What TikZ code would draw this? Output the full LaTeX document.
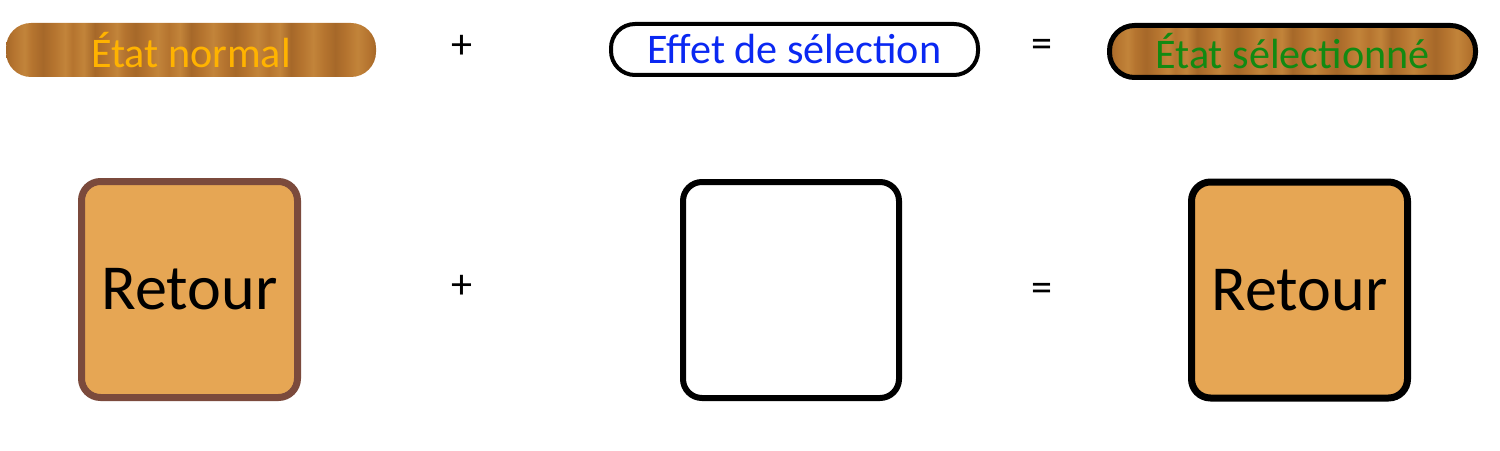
\documentclass[tikz,border=0pt]{standalone}
\usepackage{fontspec}
\setmainfont{Carlito}
\usetikzlibrary{positioning}
\usepackage{xcolor}
\definecolor{woodbase}{HTML}{B5742F}
\definecolor{woodlight}{HTML}{C2843A}
\definecolor{wooddark}{HTML}{A66829}
\definecolor{btnfill}{HTML}{E6A654}
\definecolor{btnedge}{HTML}{7B4A3C}
\definecolor{normtxt}{HTML}{FFB300}
\definecolor{fxtxt}{HTML}{0A28F2}
\definecolor{seltxt}{HTML}{128A12}
% only 25bp--75bp of a shading shows
\pgfdeclarehorizontalshading{woodgrain}{100bp}{color(0bp)=(wooddark); color(25bp)=(wooddark);
  color(26bp)=(woodbase); color(27.5bp)=(woodlight); color(28.5bp)=(woodbase); color(30bp)=(wooddark);
  color(31.5bp)=(woodbase); color(33bp)=(woodlight); color(34bp)=(woodbase); color(35.5bp)=(woodlight);
  color(37bp)=(wooddark); color(38.5bp)=(woodbase); color(40bp)=(woodlight); color(41bp)=(woodbase);
  color(42.5bp)=(wooddark); color(44bp)=(woodbase); color(45.5bp)=(woodlight); color(47bp)=(woodbase);
  color(48.5bp)=(woodlight); color(50bp)=(wooddark); color(51.5bp)=(woodbase); color(53bp)=(woodlight);
  color(54.5bp)=(woodbase); color(56bp)=(wooddark); color(57.5bp)=(woodbase); color(59bp)=(woodlight);
  color(60.5bp)=(woodbase); color(62bp)=(woodlight); color(63.5bp)=(wooddark); color(65bp)=(woodbase);
  color(66.5bp)=(woodlight); color(68bp)=(woodbase); color(69.5bp)=(wooddark); color(71bp)=(woodbase);
  color(72.5bp)=(woodlight); color(74bp)=(woodbase); color(75bp)=(wooddark); color(100bp)=(wooddark)}

\begin{document}
\begin{tikzpicture}[
      every node/.style={font=\fontsize{24}{29}\selectfont},
      woodpill/.style={rounded corners=0.5cm, shading=woodgrain, minimum width=7.4cm, minimum height=1.08cm},
      fxpill/.style={draw, line width=0.08cm, rounded corners=0.48cm, fill=white, minimum width=7.34cm, minimum height=1.02cm},
      btn/.style={rounded corners=0.38cm, line width=0.14cm, minimum width=4.32cm, minimum height=4.32cm, font=\fontsize{36.5}{42}\selectfont},
      op/.style={inner sep=0pt},
    ]
    \useasboundingbox (0,0) rectangle (30,9);

    % Top row: labels
    \node[woodpill, text=normtxt] (normal) at (3.82, 8.0) {État normal};
    \node[op] (plus1) at (9.24, 8.06) {+};
    \node[fxpill, text=fxtxt] (effet) at (15.89, 8.01) {Effet de sélection};
    \node[op] (eq1) at (20.84, 8.04) {=};
    \node[woodpill, draw, line width=0.1cm, minimum width=7.32cm, minimum height=1.04cm, text=seltxt] (selected) at (25.85, 7.97) {État sélectionné};

    % Bottom row: buttons
    \node[btn, draw=btnedge, fill=btnfill] (btnnormal) at (3.79, 3.21) {Retour};
    \node[op] (plus2) at (9.24, 3.26) {+};
    \node[btn, draw=black, line width=0.12cm, fill=white] (btnfx) at (15.82, 3.2) {};
    \node[op] (eq2) at (20.84, 3.16) {=};
    \node[btn, draw=black, fill=btnfill] (btnsel) at (25.99, 3.2) {Retour};
  \end{tikzpicture}
\end{document}
